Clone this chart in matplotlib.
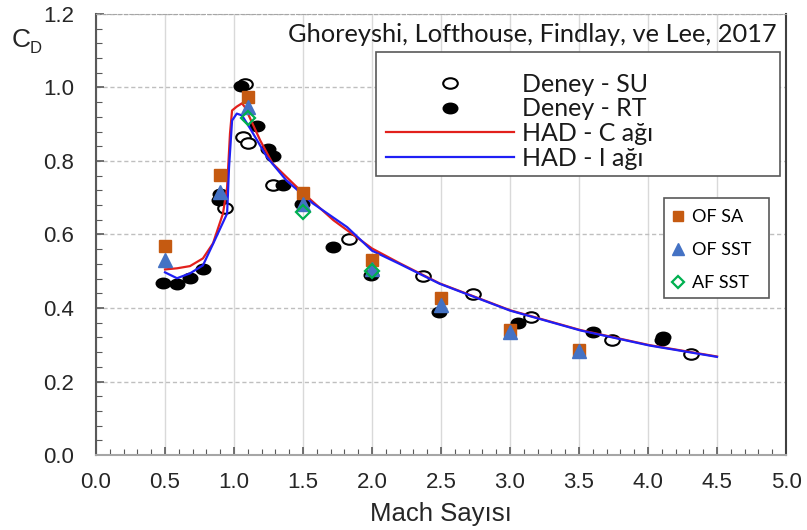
import matplotlib.pyplot as plt
from matplotlib.path import Path
from matplotlib.patches import Rectangle
from matplotlib.transforms import Affine2D
from matplotlib.ticker import MultipleLocator
import numpy as np

# Deney - SU (open) ve Deney - RT (filled) olcum noktalari
su_mach = [0.935, 1.065, 1.10, 1.08, 1.28, 1.83, 2.37, 2.73, 3.15, 3.74, 4.31]
su_cd = [0.671, 0.864, 0.848, 1.010, 0.734, 0.587, 0.486, 0.4375, 0.375, 0.3125, 0.2745]

rt_mach = [0.485, 0.59, 0.68, 0.775, 0.89, 0.90, 1.05, 1.17, 1.245, 1.28, 1.355, 1.49,
           1.72, 1.99, 2.485, 3.06, 3.60, 4.10, 4.11]
rt_cd = [0.467, 0.465, 0.481, 0.505, 0.693, 0.71, 1.005, 0.894, 0.834, 0.8125, 0.736, 0.682,
         0.565, 0.489, 0.389, 0.359, 0.334, 0.312, 0.320]

# HAD egrileri
c_mach = [0.5, 0.587, 0.681, 0.775, 0.848, 0.92, 0.95, 0.971, 0.986, 1.02, 1.058, 1.08,
          1.19, 1.28, 1.48, 1.72, 2.0, 2.2, 2.49, 3.0, 3.51, 4.01, 4.5]
c_cd = [0.505, 0.508, 0.514, 0.535, 0.576, 0.657, 0.728, 0.875, 0.9375, 0.948, 0.957, 0.946,
        0.856, 0.793, 0.72, 0.639, 0.562, 0.522, 0.467, 0.394, 0.34, 0.299, 0.268]

i_mach = [0.5, 0.587, 0.68, 0.775, 0.86, 0.95, 0.964, 0.986, 1.02, 1.058, 1.116, 1.24,
          1.38, 1.57, 1.82, 2.0, 2.2, 2.49, 3.0, 3.51, 4.01, 4.5]
i_cd = [0.497, 0.481, 0.494, 0.516, 0.584, 0.657, 0.783, 0.91, 0.929, 0.924, 0.889, 0.81,
        0.747, 0.685, 0.62, 0.556, 0.520, 0.466, 0.393, 0.339, 0.298, 0.267]

# OpenFOAM / AF sonuclari
ofsa_mach = [0.5, 0.9, 1.1, 1.5, 2.0, 2.5, 3.0, 3.5]
ofsa_cd = [0.568, 0.763, 0.975, 0.713, 0.53, 0.427, 0.34, 0.285]
ofsst_mach = [0.5, 0.9, 1.1, 1.5, 2.0, 2.5, 3.0, 3.5]
ofsst_cd = [0.53, 0.715, 0.946, 0.682, 0.505, 0.408, 0.335, 0.283]
afsst_mach = [1.1, 1.5, 2.0]
afsst_cd = [0.918, 0.66, 0.50]

W, H = 807, 530
fig = plt.figure(figsize=(W / 100, H / 100), dpi=100)
ax = fig.add_axes([96 / W, (H - 455) / H, (786 - 96) / W, (455 - 14) / H])


def px(x, y):
    # figure pixel (from top-left) -> figure fraction
    return x / W, 1 - y / H


# ellipse marker (Excel style)
ell = Path.unit_circle().transformed(Affine2D().scale(1.0, 0.72))

ax.plot(su_mach, su_cd, ls='none', marker=ell, ms=10.5, mfc='white', mec='black', mew=1.5,
        label='Deney - SU', zorder=3)
ax.plot(rt_mach, rt_cd, ls='none', marker=ell, ms=10.5, mfc='black', mec='black', mew=1.0,
        label='Deney - RT', zorder=3)
ax.plot(c_mach, c_cd, color='#E2201C', lw=1.6, label='HAD - C ağı', zorder=4)
ax.plot(i_mach, i_cd, color='#1F1FF5', lw=1.6, label='HAD - I ağı', zorder=4)
h1 = ax.plot(ofsa_mach, ofsa_cd, ls='none', marker='s', ms=9, color='#C55A11', label='OF SA', zorder=5)[0]
h2 = ax.plot(ofsst_mach, ofsst_cd, ls='none', marker='^', ms=10, color='#4472C4', label='OF SST', zorder=6)[0]
h3 = ax.plot(afsst_mach, afsst_cd, ls='none', marker='D', ms=7, mfc='none', mec='#00B050', mew=1.6,
             label='AF SST', zorder=7)[0]

ax.set_xlim(0, 5)
ax.set_ylim(0, 1.2)
ax.xaxis.set_major_locator(MultipleLocator(0.5))
ax.xaxis.set_minor_locator(MultipleLocator(0.1))
ax.yaxis.set_major_locator(MultipleLocator(0.2))
ax.yaxis.set_minor_locator(MultipleLocator(0.04))
ax.xaxis.set_major_formatter(plt.FormatStrFormatter('%.1f'))
ax.yaxis.set_major_formatter(plt.FormatStrFormatter('%.1f'))

ax.grid(axis='x', which='major', color='#d9d9d9', lw=1.0, ls='-')
ax.grid(axis='y', which='major', color='#bfbfbf', lw=1.0, ls=(0, (3, 2)))
ax.set_axisbelow(True)

ax.tick_params(which='both', direction='in', colors='#595959', top=False, right=False)
ax.tick_params(which='major', length=6, width=1.2)
ax.tick_params(which='minor', length=4, width=0.8)
ax.tick_params(axis='y', pad=16)
ax.tick_params(axis='x', pad=12)
for lab in ax.get_xticklabels() + ax.get_yticklabels():
    lab.set_fontfamily('Liberation Sans')
    lab.set_fontsize(16)
    lab.set_color('#262626')

ax.spines['left'].set_color('#595959')
ax.spines['left'].set_linewidth(1.5)
ax.spines['bottom'].set_color('#a6a6a6')
ax.spines['bottom'].set_linewidth(1.5)
ax.spines['right'].set_color('#404040')
ax.spines['right'].set_linewidth(1.5)
ax.spines['top'].set_color('#a6a6a6')
ax.spines['top'].set_linestyle((0, (3, 2)))

ax.set_xlabel('Mach Sayısı', fontfamily='Liberation Sans', fontsize=18.5, color='#262626', labelpad=7)
fig.text(*px(12, 47), 'C', fontfamily='Liberation Sans', fontsize=19, color='#262626', va='baseline')
fig.text(*px(30, 53), 'D', fontfamily='Liberation Sans', fontsize=12, color='#262626', va='baseline')

fig.text(*px(777, 34), 'Ghoreyshi, Lofthouse, Findlay, ve Lee, 2017',
         ha='right', va='center', fontfamily='Lato', fontsize=18.3, color='#1a1a1a')

# legend boxes
for (x0, y0, x1, y1) in [(376, 52, 780, 176), (664, 198, 769, 298)]:
    ax.add_patch(Rectangle(px(x0, y1), (x1 - x0) / W, (y1 - y0) / H, transform=fig.transFigure,
                           facecolor='white', edgecolor='#595959', lw=1.2, zorder=8))

handles, labels = ax.get_legend_handles_labels()
leg1 = ax.legend(handles[:4], labels[:4], loc='upper left',
                 bbox_to_anchor=px(386, 73), bbox_transform=fig.transFigure,
                 borderaxespad=0, borderpad=0, handlelength=5.1, handletextpad=0.36,
                 labelspacing=0.06, frameon=False, prop=dict(family='Lato', size=18))
leg1.set_zorder(9)
for t in leg1.get_texts():
    t.set_color('#1a1a1a')
ax.add_artist(leg1)

leg2 = ax.legend([h1, h2, h3], ['OF SA', 'OF SST', 'AF SST'], loc='upper left',
                 bbox_to_anchor=px(671, 209), bbox_transform=fig.transFigure,
                 borderaxespad=0, borderpad=0, handlelength=0.8, handletextpad=0.35,
                 labelspacing=0.95, frameon=False, markerscale=0.85,
                 prop=dict(family='Lato', size=13))
leg2.set_zorder(9)

fig.savefig('out.png', dpi=100)
